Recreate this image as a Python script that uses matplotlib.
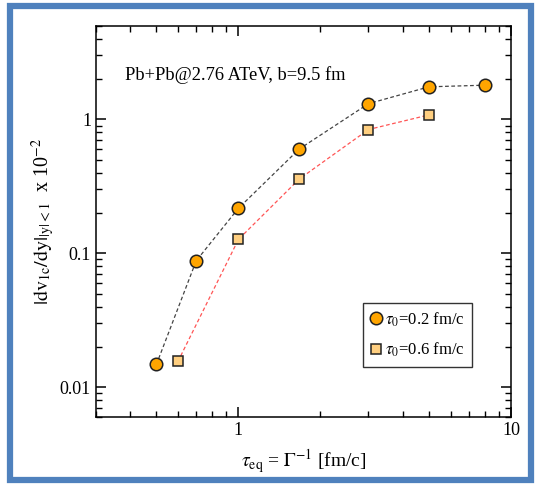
import matplotlib
matplotlib.use("Agg")
import matplotlib.pyplot as plt
from matplotlib.patches import Rectangle
from matplotlib.ticker import LogLocator, FixedLocator, FixedFormatter, NullFormatter

plt.rcParams['font.family'] = ['Liberation Serif', 'DejaVu Serif']
plt.rcParams['mathtext.fontset'] = 'stix'

# relaxation time tau_eq (fm/c) and |dv1c/dy| (x 10^-2)
tau_eq_a = [0.5, 0.7, 1.0, 1.67, 3.0, 5.0, 8.0]
dv1_a = [0.0148, 0.088, 0.217, 0.60, 1.31, 1.75, 1.80]
label_a = r"$\tau_0$=0.2 fm/c"

tau_eq_b = [0.6, 1.0, 1.67, 3.0, 5.0]
dv1_b = [0.0156, 0.127, 0.358, 0.84, 1.08]
label_b = r"$\tau_0$=0.6 fm/c"

xticks = [1, 10]
xticklabels = ["1", "10"]
yticks = [0.01, 0.1, 1]
yticklabels = ["0.01", "0.1", "1"]

fig = plt.figure(figsize=(5.39, 4.86), dpi=100)
ax = fig.add_axes([0.178, 0.142, 0.770, 0.805])

ax.plot(tau_eq_a, dv1_a, linestyle=(0, (3, 2)), color='#444444', lw=0.9,
        marker='o', ms=9, mfc='#FFA500', mec='#222222', mew=1.1, label=label_a, zorder=3)
ax.plot(tau_eq_b, dv1_b, linestyle=(0, (3, 2)), color='#FF5555', lw=0.9,
        marker='s', ms=7.5, mfc='#FFCF80', mec='#222222', mew=1.1, label=label_b, zorder=3)

ax.set_xscale('log')
ax.set_yscale('log')
ax.set_xlim(0.3, 10)
ax.set_ylim(0.006, 5)

ax.xaxis.set_major_locator(FixedLocator(xticks))
ax.xaxis.set_major_formatter(FixedFormatter(xticklabels))
ax.xaxis.set_minor_locator(LogLocator(base=10, subs=range(2, 10)))
ax.xaxis.set_minor_formatter(NullFormatter())
ax.yaxis.set_major_locator(FixedLocator(yticks))
ax.yaxis.set_major_formatter(FixedFormatter(yticklabels))
ax.yaxis.set_minor_locator(LogLocator(base=10, subs=range(2, 10)))
ax.yaxis.set_minor_formatter(NullFormatter())

ax.tick_params(which='both', direction='in', top=True, right=True, labelsize=13)
ax.tick_params(which='major', length=7, width=1.1)
ax.tick_params(which='minor', length=4, width=1.0)
for s in ax.spines.values():
    s.set_linewidth(1.1)

ax.set_xlabel(r"$\tau_{\mathrm{eq}}$ = $\Gamma^{-1}$ [fm/c]", fontsize=14, labelpad=6)
ax.set_ylabel(r"$|\mathrm{dv}_{\mathrm{1c}}/\mathrm{dy}|_{|\mathrm{y}|<1}$  x 10$^{-2}$",
              fontsize=14.5, labelpad=2)

ax.text(0.07, 0.875, "Pb+Pb@2.76 ATeV, b=9.5 fm", transform=ax.transAxes,
        fontsize=13.3, ha='left', va='center')

leg = ax.legend(loc='lower right', bbox_to_anchor=(0.906, 0.128), frameon=True, fancybox=False,
                edgecolor='black', fontsize=12, handlelength=0.6, handletextpad=0.25,
                borderpad=0.45, labelspacing=0.75, borderaxespad=0)
leg.get_frame().set_linewidth(1.0)
for h in leg.legend_handles:
    h.set_linestyle('none')

# blue outer frame
fig.patches.append(Rectangle((0.019, 0.012), 0.966, 0.976, transform=fig.transFigure,
                             fill=False, edgecolor='#4F81BD', linewidth=4.5))

fig.savefig("out.png", dpi=100)
